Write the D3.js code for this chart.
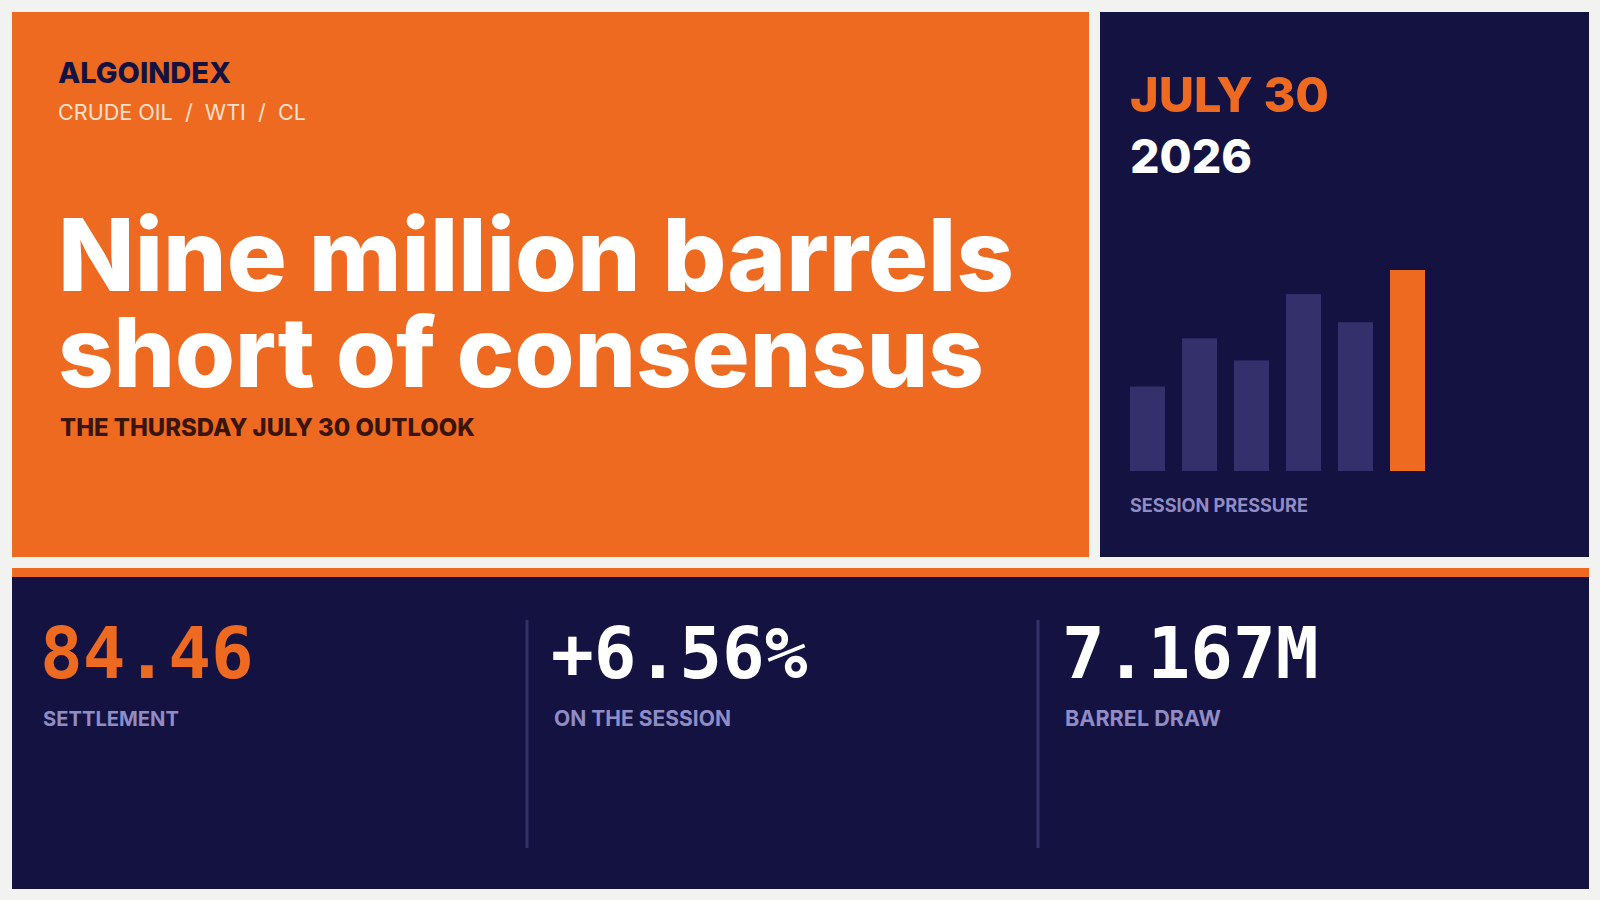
<!DOCTYPE html>
<html>
<head>
<meta charset="utf-8">
<title>AlgoIndex crude oil card</title>
<script src="https://cdn.jsdelivr.net/npm/d3@7"></script>
<style>
  body { margin:0; background:#f2f2f0; }
  svg { display:block; }
  .sans { font-family: Inter, "Noto Sans", sans-serif; }
  .mono { font-family: "DejaVu Sans Mono", monospace; font-weight:bold; }
</style>
</head>
<body>
<div id="card"></div>
<script>
var brand = "ALGOINDEX";
var crumbs = ["CRUDE OIL", "WTI", "CL"];
var headline = ["Nine million barrels", "short of consensus"];
var kicker = "THE THURSDAY JULY 30 OUTLOOK";
var dateLines = ["JULY 30", "2026"];
var sessions = ["S1", "S2", "S3", "S4", "S5", "S6"];
var pressure = [42, 66, 55, 88, 74, 100];
var chartLabel = "SESSION PRESSURE";
var statValues = ["84.46", "+6.56%", "7.167M"];
var statLabels = ["SETTLEMENT", "ON THE SESSION", "BARREL DRAW"];

var orange = "#ef6a21", navy = "#141241", bar = "#34306b", lilac = "#8f8cc6";

var W = 1600, H = 900;
var svg = d3.select('#card').append('svg')
  .attr('width', W)
  .attr('height', H);

svg.append('rect').attr('width', W).attr('height', H).attr('fill', '#f2f2f0');

// panels
svg.append('rect').attr('x', 12).attr('y', 12).attr('width', 1077).attr('height', 545).attr('fill', orange);
svg.append('rect').attr('x', 1100).attr('y', 12).attr('width', 489).attr('height', 545).attr('fill', navy);
svg.append('rect').attr('x', 12).attr('y', 568).attr('width', 1577).attr('height', 9).attr('fill', orange);
svg.append('rect').attr('x', 12).attr('y', 577).attr('width', 1577).attr('height', 312).attr('fill', navy);

// scale font-size so the text spans the width measured on the reference
function fit(sel, width) {
  var fs = parseFloat(sel.attr('font-size'));
  var w = sel.node().getComputedTextLength();
  sel.attr('font-size', (fs * width / w).toFixed(2));
  return sel;
}

fit(svg.append('text').attr('class', 'sans')
  .attr('x', 58).attr('y', 83)
  .attr('font-size', 28).attr('font-weight', 800).attr('fill', navy)
  .text(brand), 173);

fit(svg.append('text').attr('class', 'sans')
  .attr('x', 58).attr('y', 120)
  .attr('font-size', 20).attr('font-weight', 400).attr('fill', '#fde0cc')
  .style('white-space', 'pre')
  .text(crumbs.join('  /  ')), 248);

// headline, one text element with a tspan per line
var h1 = svg.append('text').attr('class', 'sans')
  .attr('font-weight', 800).attr('fill', '#fff');
var lineW = [956, 926];
h1.selectAll('tspan')
    .data(headline)
  .enter().append('tspan')
    .attr('x', 58)
    .attr('y', function(d, i) { return 291 + i * 96; })
    .attr('font-size', 96)
    .text(function(d) { return d; })
    .each(function(d, i) { fit(d3.select(this), lineW[i]); });

fit(svg.append('text').attr('class', 'sans')
  .attr('x', 60).attr('y', 436)
  .attr('font-size', 22).attr('font-weight', 800).attr('fill', '#3a1407')
  .text(kicker), 415);

// date block
var dateW = [199, 122];
dateLines.forEach(function(t, i) {
  fit(svg.append('text').attr('class', 'sans')
    .attr('x', 1130).attr('y', 112 + i * 61)
    .attr('font-size', 52).attr('font-weight', 800)
    .attr('fill', i === 0 ? orange : '#fff')
    .text(t), dateW[i]);
});

// session pressure bars
var x = d3.scaleBand().domain(sessions).range([1130, 1425]).paddingInner(0.327).paddingOuter(0);
var y = d3.scaleLinear().domain([0, 100]).range([471, 270]);

svg.selectAll('rect.bar')
    .data(pressure)
  .enter().append('rect')
    .attr('class', 'bar')
    .attr('x', function(d, i) { return x(sessions[i]); })
    .attr('y', function(d) { return y(d); })
    .attr('width', x.bandwidth())
    .attr('height', function(d) { return y(0) - y(d); })
    .attr('fill', function(d, i) { return i === pressure.length - 1 ? orange : bar; });

fit(svg.append('text').attr('class', 'sans')
  .attr('x', 1130).attr('y', 512)
  .attr('font-size', 19).attr('font-weight', 700).attr('fill', lilac)
  .text(chartLabel), 178);

// bottom stats
var col = d3.scaleLinear().domain([0, 1]).range([44, 555]);

svg.selectAll('line.divider')
    .data([1, 2])
  .enter().append('line')
    .attr('class', 'divider')
    .attr('x1', function(d) { return col(d) - 28; })
    .attr('x2', function(d) { return col(d) - 28; })
    .attr('y1', 620).attr('y2', 848)
    .attr('stroke', bar).attr('stroke-width', 3);

svg.selectAll('text.stat')
    .data(statValues)
  .enter().append('text')
    .attr('class', 'stat mono')
    .attr('x', function(d, i) { return col(i) - 4; })
    .attr('y', 678)
    .attr('font-size', 71)
    .attr('fill', function(d, i) { return i === 0 ? orange : '#fff'; })
    .text(function(d) { return d; });

var labW = [136, 177, 156];
svg.selectAll('text.lab')
    .data(statLabels)
  .enter().append('text')
    .attr('class', 'lab sans')
    .attr('x', function(d, i) { return col(i) - 1; })
    .attr('y', 726)
    .attr('font-size', 20).attr('font-weight', 700)
    .attr('fill', lilac)
    .text(function(d) { return d; })
    .each(function(d, i) { fit(d3.select(this), labW[i]); });
</script>
</body>
</html>
